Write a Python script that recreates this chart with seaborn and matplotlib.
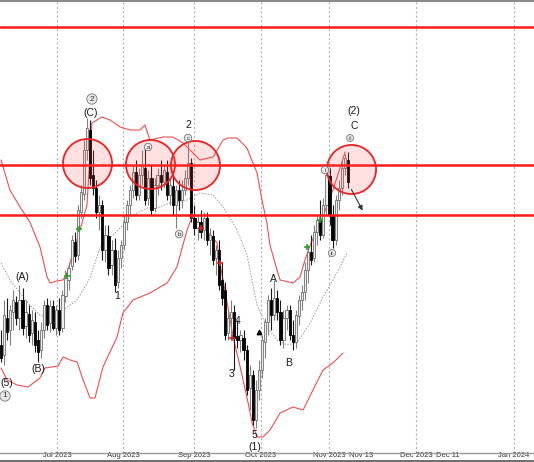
import numpy as np
import pandas as pd
import seaborn as sns
import matplotlib.pyplot as plt
from matplotlib.lines import Line2D

# daily candles (price units, the price scale itself is not shown)
opens = [105, 95, 132, 120, 138, 148, 132, 150, 124, 136, 117, 128, 110, 100, 120, 145, 127, 144, 122, 140,
         122, 154, 170, 184, 208, 195, 238, 256, 300, 320, 275, 262, 238, 245, 200, 214, 185, 200, 168, 192,
         205, 228, 245, 260, 278, 255, 275, 282, 252, 272, 242, 265, 275, 268, 278, 255, 264, 245, 260, 250,
         260, 272, 287, 232, 222, 228, 220, 232, 210, 214, 192, 200, 170, 160, 117, 132, 138, 114, 110, 112,
         100, 62, 75, 30, 60, 80, 108, 128, 150, 135, 152, 138, 110, 132, 140, 115, 108, 134, 150, 158,
         180, 198, 192, 218, 230, 215, 245, 274, 235, 210, 250, 262, 282, 290]
highs = [120, 150, 152, 145, 160, 154, 165, 162, 150, 145, 140, 138, 120, 128, 150, 152, 150, 150, 145, 152,
         160, 180, 188, 215, 218, 245, 265, 310, 332, 330, 300, 270, 255, 250, 225, 225, 210, 212, 200, 210,
         235, 250, 265, 285, 290, 282, 300, 302, 280, 285, 272, 282, 290, 285, 290, 272, 280, 265, 270, 270,
         280, 312, 292, 245, 235, 240, 238, 238, 222, 220, 205, 210, 188, 168, 140, 150, 145, 130, 120, 120,
         105, 85, 80, 70, 90, 115, 132, 155, 162, 170, 160, 150, 140, 145, 145, 130, 140, 155, 165, 188,
         205, 215, 225, 235, 250, 252, 282, 282, 245, 255, 270, 290, 296, 298]
lows = [88, 85, 110, 105, 120, 125, 120, 115, 112, 108, 105, 98, 88, 92, 112, 120, 118, 120, 115, 115,
        118, 148, 160, 180, 188, 190, 232, 250, 290, 265, 255, 232, 220, 190, 188, 175, 175, 158, 162, 182,
        200, 220, 235, 252, 250, 250, 265, 245, 245, 235, 238, 255, 260, 262, 250, 245, 235, 222, 240, 242,
        255, 265, 228, 215, 210, 212, 210, 205, 195, 185, 175, 160, 145, 110, 110, 115, 80, 102, 98, 90,
        55, 40, 25, 22, 50, 72, 92, 115, 120, 130, 130, 105, 102, 120, 110, 100, 102, 125, 140, 150,
        167, 185, 188, 205, 210, 212, 235, 225, 202, 205, 240, 255, 275, 262]
closes = [92, 135, 118, 140, 150, 132, 150, 122, 138, 115, 130, 105, 98, 120, 145, 125, 144, 122, 140, 120,
          155, 172, 182, 210, 194, 240, 258, 300, 322, 272, 262, 238, 245, 200, 215, 182, 200, 165, 192, 205,
          228, 245, 260, 278, 255, 275, 285, 250, 272, 240, 265, 275, 268, 280, 255, 265, 245, 260, 250, 260,
          272, 287, 232, 222, 228, 218, 232, 210, 215, 190, 200, 165, 152, 115, 132, 138, 112, 110, 115, 100,
          60, 75, 30, 60, 80, 110, 128, 150, 135, 152, 138, 110, 132, 140, 115, 108, 135, 150, 158, 180,
          198, 190, 218, 230, 215, 245, 275, 235, 210, 250, 262, 282, 292, 268]

# Bollinger bands, sampled along the chart (bar index, price)
upper_x = [0, 2.9, 6.2, 9.4, 12.7, 15.0, 16.0, 18.2, 20.2, 21.5, 25.7, 28.0, 29.6, 32.9, 35.5, 38.8, 42.0,
           45.3, 46.9, 48.5, 52.8, 56.0, 59.3, 61.6, 64.8, 69.1, 72.3, 73.9, 76.9, 80.1, 83.4, 85.0, 86.6,
           87.6, 89.9, 90.9, 95.1, 97.4, 99.0, 100.7, 104.6, 108.1, 112.1]
upper_y = [290, 260, 243, 228, 203, 173, 167, 169, 170, 177, 220, 245, 327, 333, 330, 323, 320,
           320, 325, 310, 313, 313, 307, 300, 290, 293, 310, 312, 312, 302, 277, 250, 227,
           205, 180, 170, 167, 173, 190, 205, 232, 260, 298]
lower_x = [0, 2.0, 5.2, 8.8, 12.7, 14.3, 18.6, 20.2, 22.5, 24.8, 26.4, 29.0, 30.6, 33.2, 37.8, 39.7, 43.0,
           48.5, 54.1, 57.3, 60.6, 62.2, 65.8, 70.4, 71.3, 73.9, 75.6, 77.9, 80.5, 81.8, 83.4, 85.3, 87.6,
           90.9, 95.1, 98.4, 101.6, 104.9, 108.1, 111.4]
lower_y = [82, 70, 65, 63, 72, 82, 84, 93, 90, 88, 73, 52, 52, 83, 113, 137, 150,
           157, 167, 183, 220, 233, 223, 207, 187, 143, 113, 83, 47, 27, 13, 13, 20,
           37, 43, 40, 60, 80, 87, 97]
middle_x = [0, 2.9, 6.2, 9.4, 12.7, 16.0, 20.2, 24.8, 29.0, 32.2, 38.8, 43.0, 47.6, 50.8, 55.0, 60.6, 64.8,
            69.1, 72.3, 76.9, 80.1, 83.4, 86.6, 89.9, 93.2, 96.4, 100.7, 104.9, 109.4, 112.7]
middle_y = [187, 170, 157, 145, 135, 132, 140, 150, 172, 202, 222, 235, 242, 242, 247, 250, 257,
            255, 243, 220, 195, 145, 123, 110, 105, 107, 127, 153, 177, 197]

levels = [423, 285, 235]
zones = [(28.0, 287), (48.5, 286), (63.2, 285), (114.0, 281)]

tick_pos = [18.2, 39.7, 62.9, 84.7, 106.8, 117.3, 135.2, 145.6, 167.1]
tick_lbl = ["Jul 2023", "Aug 2023", "Sep 2023", "Oct 2023", "Nov 2023", "Nov 13",
            "Dec 2023", "Dec 11", "Jan 2024"]
month_pos = [18.2, 39.7, 62.9, 84.7, 106.8, 135.2, 167.1]

wave_labels = [("(A)", 6.8, 173), ("(B)", 12.1, 81), ("(5)", 2.0, 67), ("(C)", 29.3, 337),
               ("1", 37.8, 154), ("2", 60.9, 325), ("3", 75.2, 76), ("4", 77.2, 129),
               ("5", 82.4, 15), ("(1)", 82.7, 3), ("A", 88.6, 171), ("B", 93.8, 87),
               ("(2)", 115.0, 339), ("C", 115.0, 324)]
circled_labels = [("2", 29.6, 351, 6), ("1", 1.3, 54, 6), ("a", 47.9, 303, 4.5), ("b", 58.0, 216, 4.5),
                  ("c", 60.9, 312, 4.5), ("i", 105.5, 280, 4.5), ("ii", 107.8, 197, 4),
                  ("iii", 113.7, 312, 3.5)]
buy_x, buy_y = [21.5, 25.4, 99.7, 103.9], [174, 221, 203, 230]
sell_x, sell_y = [62.2, 65.1, 71.3, 75.2], [234, 222, 187, 112]

sns.set_style("white")
plt.rcParams['font.family'] = ['Liberation Sans', 'DejaVu Sans']

fig = plt.figure(figsize=(5.34, 4.62), dpi=100)
ax = fig.add_axes([0, 0.0195, 1, 0.9783])

df = pd.DataFrame({"open": opens, "high": highs, "low": lows, "close": closes})
df["bar"] = np.arange(len(df))
up = df["close"] >= df["open"]
dn = ~up

for p in month_pos:
    ax.axvline(p, color="#b5b5b5", lw=0.8, ls=(0, (2, 2)), zorder=0)

# bands
sns.lineplot(x=upper_x, y=upper_y, ax=ax, color="#f05050", lw=0.8, sort=False, zorder=2)
sns.lineplot(x=lower_x, y=lower_y, ax=ax, color="#f05050", lw=0.8, sort=False, zorder=2)
sns.lineplot(x=middle_x, y=middle_y, ax=ax, color="#9a9a9a", lw=0.7, ls=(0, (1.5, 1.5)), sort=False, zorder=2)

# candles
ax.vlines(df.bar[up], df.low[up], df.high[up], color="#808080", lw=0.8, zorder=3)
ax.vlines(df.bar[dn], df.low[dn], df.high[dn], color="#1a1a1a", lw=0.8, zorder=3)
ax.bar(df.bar[up], (df.close - df.open)[up], bottom=df.open[up], width=0.72,
       color="#eeeeee", edgecolor="#6e6e6e", lw=0.6, zorder=4)
ax.bar(df.bar[dn], (df.open - df.close)[dn], bottom=df.close[dn], width=0.72,
       color="black", edgecolor="black", lw=0.6, zorder=4)

ax.scatter(buy_x, buy_y, marker="+", s=22, color="#2ca02c", lw=1.2, zorder=5)
ax.scatter(sell_x, sell_y, marker="+", s=22, color="#d62728", lw=1.2, zorder=5)

# key levels and zones
for lv in levels:
    ax.axhline(lv, color="#ff1a1a", lw=1.8, zorder=6)
zx, zy = zip(*zones)
ax.scatter(zx, zy, s=1250, facecolor=(1, 0.3, 0.3, 0.17), edgecolor="#ee2222", lw=1.3, zorder=7)

for txt, x, y in wave_labels:
    ax.text(x, y, txt, ha="center", va="center", fontsize=7.5, color="#1a1a1a", zorder=8, clip_on=True)
for txt, x, y, fs in circled_labels:
    ax.text(x, y, txt, ha="center", va="center", fontsize=fs, color="#333333", zorder=8,
            bbox=dict(boxstyle="circle,pad=0.2", fc="#e6e6e6", ec="#777777", lw=0.6))

ax.annotate("", xy=(118.2, 237), xytext=(113.7, 263),
            arrowprops=dict(arrowstyle="-|>", color="#333333", lw=0.8, mutation_scale=7), zorder=8)
ax.scatter([84.0], [118], marker="^", s=10, color="black", zorder=8)

ax.set_xlim(-0.33, 173.6)
ax.set_ylim(-3, 449)
ax.set_yticks([])
ax.set_xticks(tick_pos)
ax.set_xticklabels(tick_lbl, fontsize=5.5, color="#333333")
ax.tick_params(axis="x", direction="out", length=5, color="#999999", pad=-5.5)
for s in ["left", "right"]:
    ax.spines[s].set_visible(False)
ax.spines["top"].set_color("#8a8a8a")
ax.spines["top"].set_linewidth(1.5)
ax.spines["bottom"].set_color("#9a9a9a")
ax.spines["bottom"].set_linewidth(1.0)

fig.add_artist(Line2D([0, 1], [0.0022, 0.0022], transform=fig.transFigure, color="#555555", lw=1.2))

fig.savefig("out.png", dpi=100)
